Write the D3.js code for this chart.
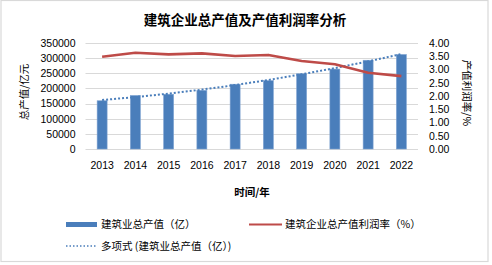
<!DOCTYPE html>
<html>
<head>
<meta charset="utf-8">
<script src="https://cdn.jsdelivr.net/npm/d3@7"></script>
<style>
  body { margin: 0; background: #fff; }
  text { font-family: "Liberation Sans", "Noto Sans CJK SC", sans-serif; fill: #000; }
  .cjk { font-family: "Noto Sans CJK SC", sans-serif; }
</style>
</head>
<body>
<div id="chart"></div>
<script>
// data
var years = ["2013", "2014", "2015", "2016", "2017", "2018", "2019", "2020", "2021", "2022"];
var output = [159300, 176700, 180800, 193600, 213900, 225800, 248400, 263900, 293100, 312000];
var profitRate = [3.48, 3.63, 3.57, 3.61, 3.51, 3.55, 3.32, 3.20, 2.88, 2.75];
var trend = [161700, 171400, 182800, 196100, 211100, 228000, 246600, 267100, 289300, 313400];
var leftTicks = [0, 50000, 100000, 150000, 200000, 250000, 300000, 350000];
var rightTicks = [0, 0.5, 1, 1.5, 2, 2.5, 3, 3.5, 4];

var width = 492, height = 265;
var margin = { top: 43, right: 74, bottom: 116, left: 85.5 };

var svg = d3.select("#chart").append("svg")
    .attr("width", width)
    .attr("height", height);

// outer frame
svg.append("rect")
    .attr("x", 1).attr("y", 0.5)
    .attr("width", 487).attr("height", 261)
    .attr("fill", "#fff")
    .attr("stroke", "#d9d9d9")
    .attr("stroke-width", 1.2);

var x = d3.scaleBand()
    .domain(years)
    .range([margin.left, width - margin.right])
    .paddingInner(0.7)
    .paddingOuter(0.35);

var y = d3.scaleLinear()
    .domain([0, 350000])
    .range([height - margin.bottom, margin.top]);

var y2 = d3.scaleLinear()
    .domain([0, 4])
    .range([height - margin.bottom, margin.top]);

// gridlines
svg.append("g")
    .selectAll("line")
    .data(leftTicks)
    .enter()
    .append("line")
    .attr("x1", margin.left)
    .attr("x2", width - margin.right)
    .attr("y1", d => Math.round(y(d)) + 0.5)
    .attr("y2", d => Math.round(y(d)) + 0.5)
    .attr("stroke", "#d9d9d9")
    .attr("stroke-width", 1);

// bars
svg.append("g")
    .selectAll("rect")
    .data(output)
    .enter()
    .append("rect")
    .attr("x", (d, i) => x(years[i]))
    .attr("y", d => y(d))
    .attr("width", x.bandwidth())
    .attr("height", d => y(0) - y(d))
    .attr("fill", "#4a7ebb")
    .attr("stroke", "#7ea3d2")
    .attr("stroke-width", 0.6);

// trend line
var trendLine = d3.line()
    .x((d, i) => x(years[i]) + x.bandwidth() / 2)
    .y(d => y(d));

svg.append("path")
    .datum(trend)
    .attr("d", trendLine)
    .attr("fill", "none")
    .attr("stroke", "#4a7ebb")
    .attr("stroke-width", 2)
    .attr("stroke-dasharray", "2,2");

// profit rate line
var rateLine = d3.line()
    .x((d, i) => x(years[i]) + x.bandwidth() / 2)
    .y(d => y2(d));

svg.append("path")
    .datum(profitRate)
    .attr("d", rateLine)
    .attr("fill", "none")
    .attr("stroke", "#be4b48")
    .attr("stroke-width", 2.6)
    .attr("stroke-linejoin", "round");

// left axis
var gy = svg.append("g")
    .attr("transform", `translate(${margin.left - 10},0)`)
    .call(d3.axisLeft(y).tickValues(leftTicks).tickSize(0).tickFormat(d3.format("d")))
    .call(g => g.select(".domain").remove());
gy.selectAll("text")
    .attr("x", 0)
    .style("font-size", "10.5px")
    .attr("fill", "#000");

// right axis
var gy2 = svg.append("g")
    .attr("transform", `translate(${width - margin.right + 11},0)`)
    .call(d3.axisRight(y2).tickValues(rightTicks).tickSize(0).tickFormat(d3.format(".2f")))
    .call(g => g.select(".domain").remove());
gy2.selectAll("text")
    .attr("x", 0)
    .style("font-size", "10.5px")
    .attr("fill", "#000");

// bottom axis
var gx = svg.append("g")
    .attr("transform", `translate(0,${height - margin.bottom})`)
    .call(d3.axisBottom(x).tickSize(0))
    .call(g => g.select(".domain").remove());
gx.selectAll("text")
    .attr("y", 13)
    .style("font-size", "10.5px")
    .attr("fill", "#000");

// title
svg.append("text")
    .attr("class", "cjk")
    .attr("x", 245)
    .attr("y", 25)
    .attr("text-anchor", "middle")
    .style("font-size", "13.5px")
    .style("font-weight", "bold")
    .text("建筑企业总产值及产值利润率分析");

// axis titles
svg.append("text")
    .attr("class", "cjk")
    .attr("transform", "translate(28,92) rotate(-90)")
    .attr("text-anchor", "middle")
    .style("font-size", "10.5px")
    .text("总产值/亿元");

svg.append("text")
    .attr("class", "cjk")
    .attr("transform", "translate(463,93) rotate(90)")
    .attr("text-anchor", "middle")
    .style("font-size", "10.5px")
    .text("产值利润率/%");

svg.append("text")
    .attr("class", "cjk")
    .attr("x", 252)
    .attr("y", 196)
    .attr("text-anchor", "middle")
    .style("font-size", "10.5px")
    .style("font-weight", "bold")
    .text("时间/年");

// legend
var legend = svg.append("g").attr("class", "legend");

legend.append("rect")
    .attr("x", 66).attr("y", 222)
    .attr("width", 31).attr("height", 5)
    .attr("fill", "#4a7ebb");
legend.append("text")
    .attr("class", "cjk")
    .attr("x", 101).attr("y", 228)
    .style("font-size", "10.5px")
    .attr("fill", "#222")
    .text("建筑业总产值（亿）");

legend.append("line")
    .attr("x1", 249).attr("x2", 282)
    .attr("y1", 224.5).attr("y2", 224.5)
    .attr("stroke", "#be4b48")
    .attr("stroke-width", 2);
legend.append("text")
    .attr("class", "cjk")
    .attr("x", 285).attr("y", 228)
    .style("font-size", "10.5px")
    .attr("fill", "#222")
    .text("建筑企业总产值利润率（%）");

legend.append("line")
    .attr("x1", 66).attr("x2", 97)
    .attr("y1", 246).attr("y2", 246)
    .attr("stroke", "#4a7ebb")
    .attr("stroke-width", 1.5)
    .attr("stroke-dasharray", "1.5,2");
legend.append("text")
    .attr("class", "cjk")
    .attr("x", 101).attr("y", 250)
    .style("font-size", "10.5px")
    .attr("fill", "#222")
    .text("多项式 (建筑业总产值（亿）)");
</script>
</body>
</html>
